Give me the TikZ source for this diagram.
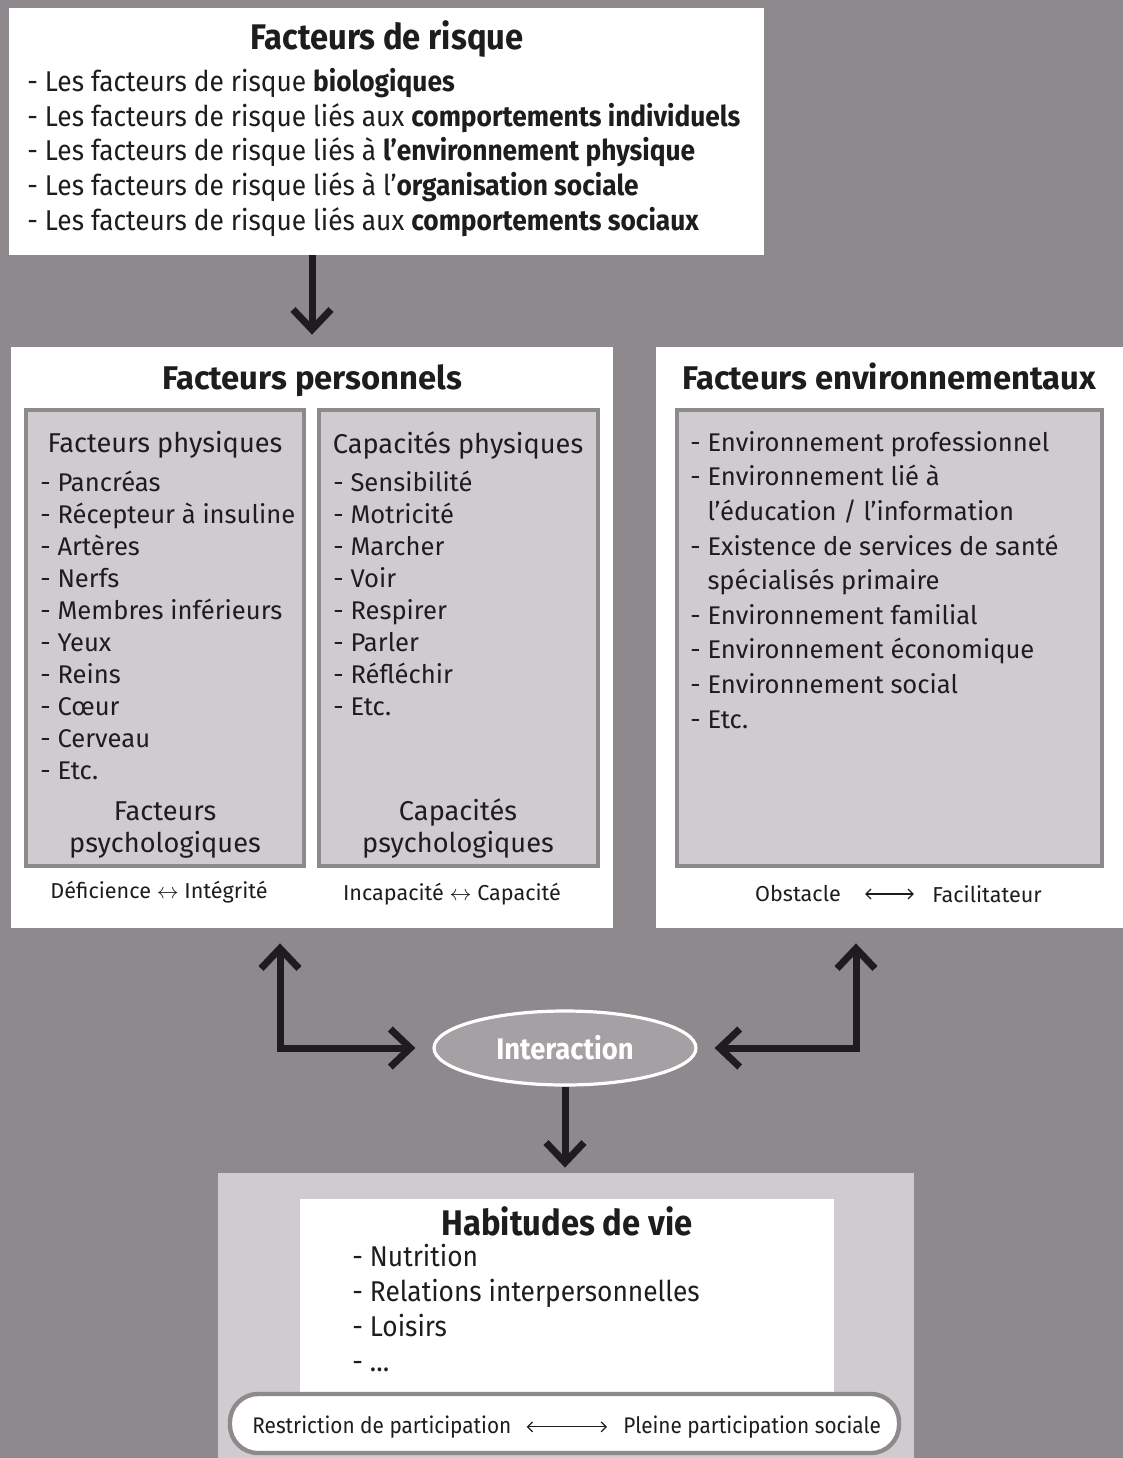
\documentclass[tikz,border=0pt]{standalone}
\usepackage{fontspec}
\usepackage{tikz}
\usetikzlibrary{arrows.meta,shapes.geometric,positioning,fit}
\setmainfont{Fira Sans}
\newfontfamily\condfont[FakeStretch=0.92]{Fira Sans}
\definecolor{bggray}{RGB}{141,137,140}
\definecolor{boxgray}{RGB}{206,204,206}
\definecolor{ovalgray}{RGB}{164,160,163}
\definecolor{ink}{RGB}{30,28,30}

\tikzset{
  panel/.style={fill=white, inner sep=0pt},
  subpanel/.style={fill=boxgray, draw=bggray, line width=2.2pt, inner sep=0pt},
  bigtitle/.style={anchor=base, inner sep=0pt, font=\bfseries\fontsize{16.4}{19}\selectfont, text=ink},
  condtitle/.style={font=\condfont\bfseries\fontsize{17.8}{20}\selectfont, text=ink},
  condline/.style={anchor=mid west, inner sep=0pt, text=ink, font=\condfont\fontsize{14.3}{17}\selectfont},
  itemline/.style={anchor=mid west, inner sep=0pt, text=ink, font=\fontsize{12.8}{15}\selectfont},
  subtitle/.style={inner sep=0pt, text=ink, align=center, font=\fontsize{13.6}{16}\selectfont},
  smalltext/.style={inner sep=0pt, text=ink, font=\fontsize{10.8}{13}\selectfont},
  condsmall/.style={inner sep=0pt, text=ink, anchor=mid west, font=\condfont\fontsize{11.3}{13}\selectfont},
  fat/.style={line width=3.5pt, draw=ink, -{Straight Barb[length=10pt,width=19pt]}},
  fatboth/.style={line width=3.5pt, draw=ink, {Straight Barb[length=10pt,width=19pt]}-{Straight Barb[length=10pt,width=19pt]}},
  thinboth/.style={line width=0.6pt, draw=ink, {Straight Barb[length=2.5pt,width=5pt]}-{Straight Barb[length=2.5pt,width=5pt]}},
}

\begin{document}
\begin{tikzpicture}[x=0.5pt,y=-0.5pt]
  \fill[bggray] (0,0) rectangle (1123,1458);
  \useasboundingbox (0,0) rectangle (1123,1458);

  % facteurs de risque
  \node[panel, fit={(9,8) (764,255)}] (risque) {};
  \node[condtitle] (risquetitle) at (387,39) {Facteurs de risque};
  \foreach \txt [count=\i] in {%
      - Les facteurs de risque \textbf{biologiques},
      - Les facteurs de risque liés aux \textbf{comportements individuels},
      - Les facteurs de risque liés à \textbf{l’environnement physique},
      - Les facteurs de risque liés à l’\textbf{organisation sociale},
      - Les facteurs de risque liés aux \textbf{comportements sociaux}}
    \node[condline] (risque\i) at (27,{86+34.75*(\i-1)}) {\txt};

  % facteurs personnels
  \node[panel, fit={(11,347) (613,928)}] (perso) {};
  \node[bigtitle] (persotitle) at (312,389) {Facteurs personnels};
  \node[subpanel, fit={(26,410) (304,866)}] (physbox) {};
  \node[subpanel, fit={(319,410) (598,866)}] (capbox) {};

  \node[subtitle] (physhead) at (165,445) {Facteurs physiques};
  \foreach \txt [count=\i] in {Pancréas, Récepteur à insuline, Artères, Nerfs,
      Membres inférieurs, Yeux, Reins, Cœur, Cerveau, Etc.}
    \node[itemline] (phys\i) at (40,{486+32*(\i-1)}) {- \txt};
  \node[subtitle] (psyfact) at (165,830) {Facteurs\\psychologiques};

  \node[subtitle] (caphead) at (458,445) {Capacités physiques};
  \foreach \txt [count=\i] in {Sensibilité, Motricité, Marcher, Voir,
      Respirer, Parler, Réfléchir, Etc.}
    \node[itemline] (cap\i) at (333,{486+32*(\i-1)}) {- \txt};
  \node[subtitle] (psycap) at (458,828) {Capacités\\psychologiques};

  \node[smalltext] (deficience) at (159,892) {Déficience $\leftrightarrow$ Intégrité};
  \node[smalltext] (incapacite) at (452,894) {Incapacité $\leftrightarrow$ Capacité};

  % facteurs environnementaux
  \node[panel, fit={(656,347) (1123,928)}] (envir) {};
  \node[bigtitle] (envirtitle) at (889,389) {Facteurs environnementaux};
  \node[subpanel, fit={(677,410) (1102,866)}] (envbox) {};
  \foreach \txt [count=\i] in {%
      - Environnement professionnel,
      - Environnement lié à,
      \phantom{- }l’éducation / l’information,
      - Existence de services de santé,
      \phantom{- }spécialisés primaire,
      - Environnement familial,
      - Environnement économique,
      - Environnement social,
      - Etc.}
    \node[itemline] (env\i) at (690,{446+34.6*(\i-1)}) {\txt};
  \node[smalltext] (obstacle) at (798,894) {Obstacle};
  \node[smalltext] (facilitateur) at (987,894) {Facilitateur};
  \draw[thinboth, shorten <=12pt, shorten >=9pt] (obstacle) -- (facilitateur);

  % interaction
  \node[ellipse, fill=ovalgray, draw=white, line width=1.6pt, inner sep=0pt,
        minimum width=131pt, minimum height=37pt, text=white,
        font=\condfont\bfseries\fontsize{14.9}{17}\selectfont] (inter) at (565,1048) {Interaction};

  % habitudes de vie
  \node[fill=boxgray, inner sep=0pt, fit={(218,1173) (914,1458)}] (habout) {};
  \node[panel, fit={(300,1199) (834,1392)}] (habbox) {};
  \node[condtitle] (habtitle) at (567,1221) {Habitudes de vie};
  \foreach \txt [count=\i] in {Nutrition, Relations interpersonnelles, Loisirs, …}
    \node[condline] (hab\i) at (352,{1261+35*(\i-1)}) {- \txt};
  \node[fill=white, draw=bggray, line width=2.2pt, rounded corners=14pt, inner sep=0pt,
        fit={(230,1394) (899,1453)}] (partpill) {};
  \node[condsmall] (restriction) at (252,1428) {Restriction de participation};
  \node[condsmall] (pleine) at (623,1428) {Pleine participation sociale};
  \draw[thinboth, shorten <=7.5pt, shorten >=8pt] (restriction) -- (pleine);

  % connecteurs
  \draw[fat, shorten >=6pt] (risque.south -| perso.north) -- (perso.north);
  \draw[fatboth, shorten <=7.5pt, shorten >=8.5pt] ([xshift=-16pt]perso.south) |- (inter);
  \draw[fatboth, shorten <=7.5pt, shorten >=8.5pt] ([xshift=-16.75pt]envir.south) |- (inter);
  \draw[fat, shorten >=2.5pt] (inter.south) -- (inter.south |- habout.north);
\end{tikzpicture}
\end{document}
